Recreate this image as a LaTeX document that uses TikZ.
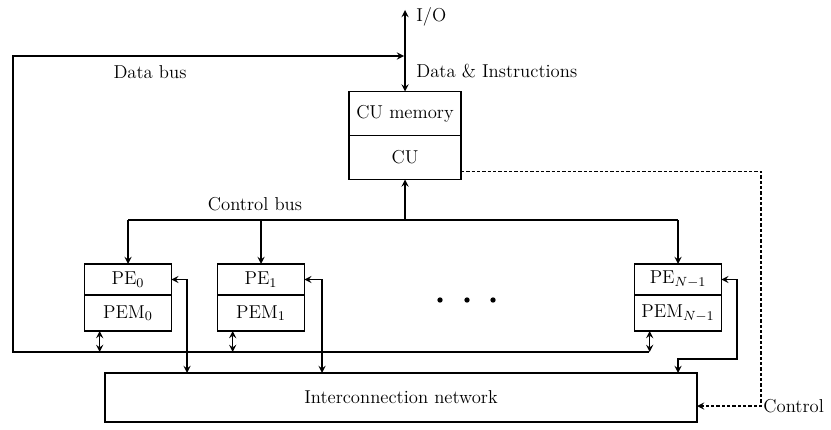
\documentclass[tikz,border=0pt]{standalone}
\usepackage{tikz}
\usetikzlibrary{positioning}

\begin{document}
\begin{tikzpicture}[x=0.6pt,y=-0.6pt,>=stealth,line width=0.9pt,
  font=\fontsize{11.2}{13}\selectfont,
  blk/.style={draw,inner sep=0pt,outer sep=0pt},
  cublk/.style={blk,minimum width=67.2pt,minimum height=26.4pt},
  pebox/.style={blk,minimum width=52pt,minimum height=18.6pt},
  pembox/.style={blk,minimum width=52pt,minimum height=21.6pt},
  ctlline/.style={dash pattern=on 2pt off 1.2pt}]
\useasboundingbox (0,0) rectangle (831,429);
\node[cublk] (cumem) at (405,113.5) {CU memory};
\node[cublk,below=0pt of cumem] (cu) {CU};
\foreach \n/\x/\s in {0/128/0,1/261/1,N/678/{N-1}}{
  \node[pebox] (pe\n) at (\x,279.5) {PE$_{\s}$};
  \node[pembox,below=0pt of pe\n] (pem\n) {PEM$_{\s}$};
}
\node[blk,minimum width=355.2pt,minimum height=29.4pt] (net) at (401,397.5)
 {Interconnection network};
\coordinate (ioT) at (405,10);
\coordinate (iojoin) at (404,56);
\coordinate (busT) at (13,56);
\coordinate (busR) at (649,352);
\coordinate (cb) at (0,220);
\coordinate (n0) at (187,382.8);
\coordinate (n1) at (322,382.8);
\coordinate (nN) at (678,382.8);
\coordinate (bendN) at (737,359);
\coordinate (ctl) at (761,406);
% I/O and data bus
\draw[<->] (cumem.north) -- (ioT);
\node[anchor=west] (io) at (410,17) {I/O};
\node[anchor=west] (datains) at (410,71) {Data \& Instructions};
\draw[->] (busR) -| (busT) -- (iojoin);
\node (databus) at (150,72) {Data bus};
% control bus
\draw (pe0.north |- cb) -- (peN.north |- cb);
\node (ctlbus) at (255,204) {Control bus};
\draw[->] (cu.south |- cb) -- (cu.south);
\foreach \n in {pe0,pe1,peN}
  \draw[->] (\n.north |- cb) -- (\n.north);
\foreach \n in {0,1,N}
  \draw[<->] ([xshift=9pt]pem\n.south west) -- ++(0,21);
% to the network
\draw[<->] (pe0.east) -| (net.north -| n0);
\draw[<->] (pe1.east) -| (net.north -| n1);
\draw[<->] (peN.east) -| (bendN) -| (net.north -| nN);
\draw[ctlline,->] ([yshift=4.8pt]cu.south east) -| (ctl) -- (net.east |- ctl);
\node[anchor=west,inner sep=1pt] (ctltxt) at (ctl) {Control};
\foreach \x in {440,467,493}
  \fill (\x,300) circle (1.6pt);
\end{tikzpicture}
\end{document}
